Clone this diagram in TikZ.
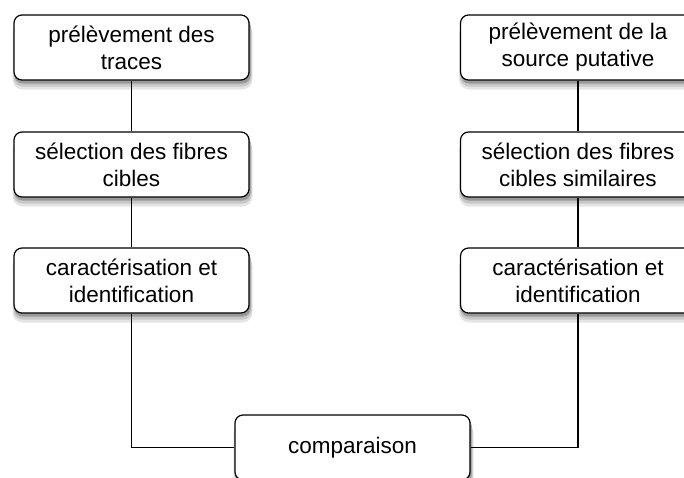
\documentclass[tikz,border=0pt]{standalone}
\usepackage{fontspec}
\setmainfont{Liberation Sans}

\begin{document}
\begin{tikzpicture}[x=1pt, y=-1pt,
    box/.style = {draw, line width=1.2pt, rounded corners=8pt, fill=white,
        minimum width=235pt, minimum height=65pt, align=center,
        font=\fontsize{22.5}{27}\selectfont},
    link/.style = {line width=1.2pt}]

    \useasboundingbox (0,0) rectangle (684,477);

    % soft shadows under the boxes (box centres)
    \foreach \cx/\cy in {131.5/47.5, 131.5/164.5, 131.5/280.5, 578/47.5, 578/164.5, 578/280.5, 352.5/447.5} {
        \fill[black!10, rounded corners=10pt] (\cx-119,\cy-24) rectangle (\cx+121,\cy+42);
        \fill[black!22, rounded corners=9pt] (\cx-118,\cy-27) rectangle (\cx+120,\cy+39);
        \fill[black!40, rounded corners=8pt] (\cx-117,\cy-30) rectangle (\cx+119,\cy+36);
    }

    % left column: traces
    \node[box] (trace1) at (131.5,47.5) {prélèvement des\\traces};
    \node[box] (trace2) at (131.5,164.5) {sélection des fibres\\cibles};
    \node[box] (trace3) at (131.5,280.5) {caractérisation et\\identification};

    % right column: source
    \node[box] (source1) at (578,47.5) {prélèvement de la\\source putative};
    \node[box] (source2) at (578,164.5) {sélection des fibres\\cibles similaires};
    \node[box] (source3) at (578,280.5) {caractérisation et\\identification};

    % comparison
    \node[box] (comp) at (352.5,447.5) {comparaison};

    \draw[link] (trace1) -- (trace2);
    \draw[link] (trace2) -- (trace3);
    \draw[link] (source1) -- (source2);
    \draw[link] (source2) -- (source3);
    \draw[link] (trace3.south) |- (comp.west);
    \draw[link] (source3.south) |- (comp.east);

\end{tikzpicture}
\end{document}
